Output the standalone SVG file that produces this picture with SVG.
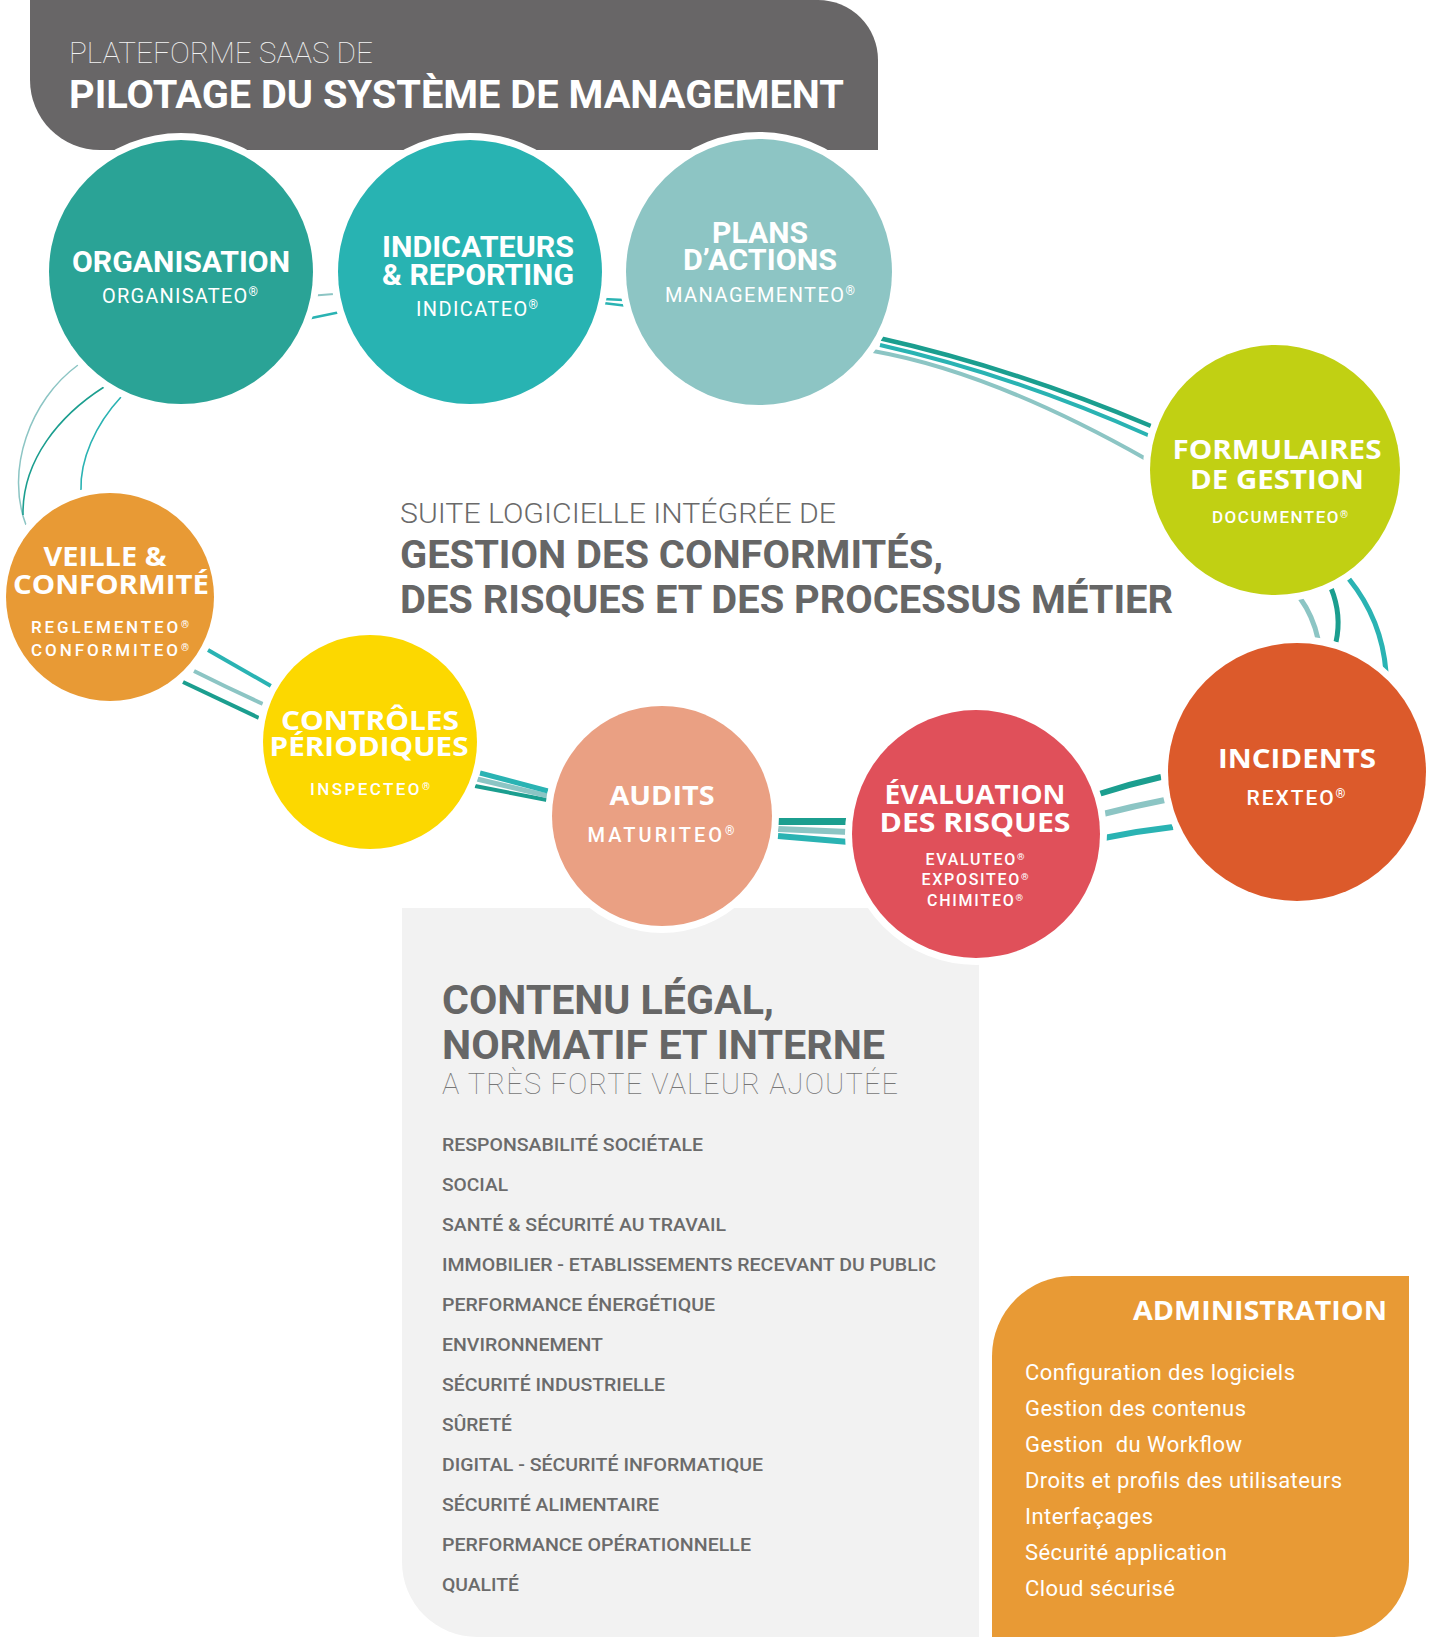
<svg xmlns="http://www.w3.org/2000/svg" width="1432" height="1637" viewBox="0 0 1432 1637">
<style>
.bg{fill:#ffffff}
.node{stroke:#ffffff;stroke-width:14;paint-order:stroke}
.cond{font-family:Roboto,"Liberation Sans",sans-serif;font-weight:700}
.wide{font-family:"Open Sans","DejaVu Sans",sans-serif;font-weight:700}
.light{font-family:Roboto,"Liberation Sans",sans-serif;font-weight:300}
.thin{font-family:Roboto,"Liberation Sans",sans-serif;font-weight:100}
.reg{font-family:Roboto,"Liberation Sans",sans-serif;font-weight:400}
.med{font-family:Roboto,"Liberation Sans",sans-serif;font-weight:500}
.w{fill:#ffffff}
.g{fill:#666666}
.ln{fill:none;stroke-linecap:butt}
.c1{stroke:#1b9e8f}
.c2{stroke:#2ab3b3}
.c3{stroke:#8cc5c4}
.r{font-size:0.6em;baseline-shift:super}
</style>
<rect class="bg" x="0" y="0" width="1432" height="1637"/>

<g id="header">
<path d="M30,0 H818 A60,60 0 0 1 878,60 V150 H100 A70,70 0 0 1 30,80 Z" fill="#686667"/>
<text class="thin" x="69" y="63" font-size="29" fill="#f2f2f2" textLength="304" lengthAdjust="spacingAndGlyphs">PLATEFORME SAAS DE</text>
<text class="cond w" x="69" y="108" font-size="38" textLength="775" lengthAdjust="spacingAndGlyphs">PILOTAGE DU SYSTÈME DE MANAGEMENT</text>
</g>

<g id="contenu">
<path d="M402,908 H979 V1637 H477 A75,75 0 0 1 402,1562 Z" fill="#f2f2f2"/>
<text class="cond g" x="442" y="1014" font-size="40" textLength="332" lengthAdjust="spacingAndGlyphs">CONTENU LÉGAL,</text>
<text class="cond g" x="442" y="1059" font-size="40" textLength="443" lengthAdjust="spacingAndGlyphs">NORMATIF ET INTERNE</text>
<text class="thin" x="442" y="1094" font-size="29" fill="#777777" textLength="456">A TRÈS FORTE VALEUR AJOUTÉE</text>
<g class="med" font-size="18" fill="#6b6b6b">
<text x="442" y="1151" textLength="261" lengthAdjust="spacingAndGlyphs">RESPONSABILITÉ SOCIÉTALE</text>
<text x="442" y="1191" textLength="66" lengthAdjust="spacingAndGlyphs">SOCIAL</text>
<text x="442" y="1231" textLength="284" lengthAdjust="spacingAndGlyphs">SANTÉ &amp; SÉCURITÉ AU TRAVAIL</text>
<text x="442" y="1271" textLength="494" lengthAdjust="spacingAndGlyphs">IMMOBILIER - ETABLISSEMENTS RECEVANT DU PUBLIC</text>
<text x="442" y="1311" textLength="273" lengthAdjust="spacingAndGlyphs">PERFORMANCE ÉNERGÉTIQUE</text>
<text x="442" y="1351" textLength="161" lengthAdjust="spacingAndGlyphs">ENVIRONNEMENT</text>
<text x="442" y="1391" textLength="223" lengthAdjust="spacingAndGlyphs">SÉCURITÉ INDUSTRIELLE</text>
<text x="442" y="1431" textLength="70" lengthAdjust="spacingAndGlyphs">SÛRETÉ</text>
<text x="442" y="1471" textLength="321" lengthAdjust="spacingAndGlyphs">DIGITAL - SÉCURITÉ INFORMATIQUE</text>
<text x="442" y="1511" textLength="217" lengthAdjust="spacingAndGlyphs">SÉCURITÉ ALIMENTAIRE</text>
<text x="442" y="1551" textLength="309" lengthAdjust="spacingAndGlyphs">PERFORMANCE OPÉRATIONNELLE</text>
<text x="442" y="1591" textLength="77" lengthAdjust="spacingAndGlyphs">QUALITÉ</text>
</g>
</g>

<g id="administration">
<path d="M1072,1276 H1409 V1562 A75,75 0 0 1 1334,1637 H992 V1356 A80,80 0 0 1 1072,1276 Z" fill="#e89a35"/>
<text class="wide w" x="1387" y="1320" font-size="26" text-anchor="end" textLength="254" lengthAdjust="spacingAndGlyphs">ADMINISTRATION</text>
<g class="reg w" font-size="22">
<text x="1025" y="1380" textLength="270">Configuration des logiciels</text>
<text x="1025" y="1416" textLength="221">Gestion des contenus</text>
<text x="1025" y="1452" textLength="217" xml:space="preserve">Gestion  du Workflow</text>
<text x="1025" y="1488" textLength="317">Droits et profils des utilisateurs</text>
<text x="1025" y="1524" textLength="128">Interfaçages</text>
<text x="1025" y="1560" textLength="202">Sécurité application</text>
<text x="1025" y="1596" textLength="150">Cloud sécurisé</text>
</g>
</g>

<g id="titre-suite">
<text class="light" x="400" y="523" font-size="28" fill="#6a6a6a" textLength="436" lengthAdjust="spacingAndGlyphs">SUITE LOGICIELLE INTÉGRÉE DE</text>
<text class="cond g" x="400" y="568" font-size="39" textLength="543" lengthAdjust="spacingAndGlyphs">GESTION DES CONFORMITÉS,</text>
<text class="cond g" x="400" y="613" font-size="39" textLength="773" lengthAdjust="spacingAndGlyphs">DES RISQUES ET DES PROCESSUS MÉTIER</text>
</g>

<g id="connectors">
<path class="ln c3" stroke-width="1.5" d="M78,365 C30,400 5,470 26,525"/>
<path class="ln c1" stroke-width="1.6" d="M104,387 C60,415 22,460 23,515"/>
<path class="ln c2" stroke-width="1.6" d="M121,397 C95,425 80,460 81,490"/>
<path class="ln c3" stroke-width="2" d="M315,295.5 L334,294"/>
<path class="ln c2" stroke-width="2.5" d="M309,318.5 L338,312.5"/>
<path class="ln c2" stroke-width="2.5" d="M603,299 L624,300"/>
<path class="ln c2" stroke-width="2.5" d="M603,303 L624,305.5"/>
<path class="ln c1" stroke-width="4.5" d="M879,338 Q1013,368 1151,426"/>
<path class="ln c2" stroke-width="4" d="M880,345 Q1013,375 1150,436"/>
<path class="ln c3" stroke-width="4" d="M873,351 Q992,372 1146,459"/>
<path class="ln c3" stroke-width="5" d="M1300,598 Q1313,616 1318,639"/>
<path class="ln c1" stroke-width="5" d="M1331,588 Q1342,615 1336,642"/>
<path class="ln c2" stroke-width="5" d="M1349,579 Q1382,620 1386,672"/>
<path class="ln c1" stroke-width="6" d="M1099,794 Q1130,784 1161,777"/>
<path class="ln c3" stroke-width="6" d="M1103,814 Q1134,806 1165,800"/>
<path class="ln c2" stroke-width="6" d="M1104,838 Q1138,831 1173,827"/>
<path class="ln c1" stroke-width="7" d="M778,821.5 L849,821.5"/>
<path class="ln c3" stroke-width="6" d="M778,829 L849,832"/>
<path class="ln c2" stroke-width="6" d="M778,836 L849,842"/>
<path class="ln c1" stroke-width="4" d="M475,786 L547,800"/>
<path class="ln c3" stroke-width="5" d="M477,779 L548,796"/>
<path class="ln c2" stroke-width="5" d="M480,773 L548,791"/>
<path class="ln c2" stroke-width="4" d="M208,650 L271,686"/>
<path class="ln c3" stroke-width="4" d="M194,671 Q230,689 263,704"/>
<path class="ln c1" stroke-width="4" d="M183,682 L259,718"/>
</g>

<g id="organisation">
<circle class="node" cx="181" cy="272" r="132" fill="#2aa396"/>
<text class="cond w" x="181" y="272" font-size="30" text-anchor="middle" textLength="218" lengthAdjust="spacingAndGlyphs">ORGANISATION</text>
<text class="reg w" x="180" y="303" font-size="20" text-anchor="middle" textLength="156">ORGANISATEO<tspan class="r">®</tspan></text>
</g>

<g id="indicateurs">
<circle class="node" cx="470" cy="272" r="132" fill="#28b3b2"/>
<text class="cond w" x="478" y="257" font-size="29" text-anchor="middle" textLength="192" lengthAdjust="spacingAndGlyphs">INDICATEURS</text>
<text class="cond w" x="478" y="285" font-size="29" text-anchor="middle" textLength="192" lengthAdjust="spacingAndGlyphs">&amp; REPORTING</text>
<text class="reg w" x="477" y="316" font-size="20" text-anchor="middle" textLength="122">INDICATEO<tspan class="r">®</tspan></text>
</g>

<g id="plans">
<circle class="node" cx="759" cy="272" r="133" fill="#8dc5c4"/>
<text class="cond w" x="760" y="243" font-size="29" text-anchor="middle" textLength="96" lengthAdjust="spacingAndGlyphs">PLANS</text>
<text class="cond w" x="760" y="270" font-size="29" text-anchor="middle" textLength="154" lengthAdjust="spacingAndGlyphs">D’ACTIONS</text>
<text class="reg w" x="760" y="302" font-size="20" text-anchor="middle" textLength="190">MANAGEMENTEO<tspan class="r">®</tspan></text>
</g>

<g id="formulaires">
<circle class="node" cx="1275" cy="470" r="125" fill="#c1d013"/>
<text class="wide w" x="1277" y="459" font-size="26" text-anchor="middle" textLength="209" lengthAdjust="spacingAndGlyphs">FORMULAIRES</text>
<text class="wide w" x="1277" y="489" font-size="26" text-anchor="middle" textLength="174" lengthAdjust="spacingAndGlyphs">DE GESTION</text>
<text class="med w" x="1280" y="523" font-size="17" text-anchor="middle" textLength="136">DOCUMENTEO<tspan class="r">®</tspan></text>
</g>

<g id="incidents">
<circle class="node" cx="1297" cy="772" r="129" fill="#dc5a2b"/>
<text class="wide w" x="1297" y="768" font-size="26" text-anchor="middle" textLength="158" lengthAdjust="spacingAndGlyphs">INCIDENTS</text>
<text class="med w" x="1296" y="805" font-size="21" text-anchor="middle" textLength="99">REXTEO<tspan class="r">®</tspan></text>
</g>

<g id="evaluation">
<circle class="node" cx="976" cy="834" r="124" fill="#e0505a"/>
<text class="wide w" x="975" y="804" font-size="26" text-anchor="middle" textLength="181" lengthAdjust="spacingAndGlyphs">ÉVALUATION</text>
<text class="wide w" x="975" y="832" font-size="26" text-anchor="middle" textLength="191" lengthAdjust="spacingAndGlyphs">DES RISQUES</text>
<text class="med w" x="975" y="865" font-size="16" text-anchor="middle" textLength="99">EVALUTEO<tspan class="r">®</tspan></text>
<text class="med w" x="975" y="885" font-size="16" text-anchor="middle" textLength="107">EXPOSITEO<tspan class="r">®</tspan></text>
<text class="med w" x="975" y="906" font-size="16" text-anchor="middle" textLength="96">CHIMITEO<tspan class="r">®</tspan></text>
</g>

<g id="audits">
<circle class="node" cx="662" cy="816" r="110" fill="#eaa083"/>
<text class="wide w" x="662" y="805" font-size="26" text-anchor="middle" textLength="105" lengthAdjust="spacingAndGlyphs">AUDITS</text>
<text class="med w" x="661" y="842" font-size="20" text-anchor="middle" textLength="147">MATURITEO<tspan class="r">®</tspan></text>
</g>

<g id="controles">
<circle class="node" cx="370" cy="742" r="107" fill="#fcd800"/>
<text class="wide w" x="370" y="730" font-size="26" text-anchor="middle" textLength="178" lengthAdjust="spacingAndGlyphs">CONTRÔLES</text>
<text class="wide w" x="369" y="756" font-size="26" text-anchor="middle" textLength="199" lengthAdjust="spacingAndGlyphs">PÉRIODIQUES</text>
<text class="med w" x="370" y="795" font-size="17" text-anchor="middle" textLength="120">INSPECTEO<tspan class="r">®</tspan></text>
</g>

<g id="veille">
<circle class="node" cx="110" cy="597" r="104" fill="#e89a35"/>
<text class="wide w" x="105" y="566" font-size="27" text-anchor="middle" textLength="123" lengthAdjust="spacingAndGlyphs">VEILLE &amp;</text>
<text class="wide w" x="111" y="594" font-size="27" text-anchor="middle" textLength="196" lengthAdjust="spacingAndGlyphs">CONFORMITÉ</text>
<text class="med w" x="110" y="633" font-size="17" text-anchor="middle" textLength="158">REGLEMENTEO<tspan class="r">®</tspan></text>
<text class="med w" x="110" y="656" font-size="17" text-anchor="middle" textLength="158">CONFORMITEO<tspan class="r">®</tspan></text>
</g>
</svg>
